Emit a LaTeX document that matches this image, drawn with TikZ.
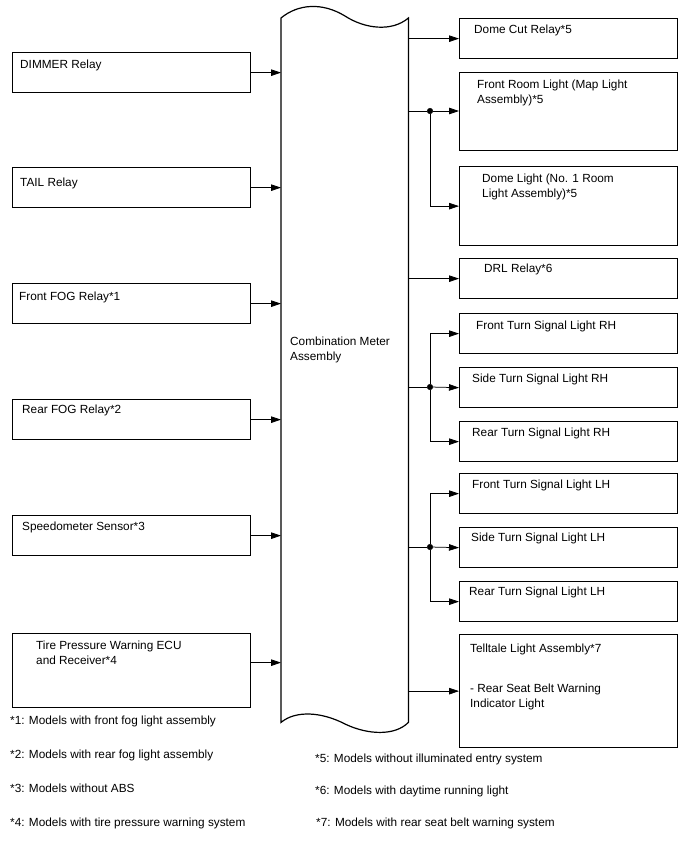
\documentclass[tikz,border=0pt]{standalone}
\usepackage{fontspec}
\setmainfont{Liberation Sans}
\usetikzlibrary{arrows.meta}
\tikzset{
  box/.style={draw, line width=1.3pt, inner sep=0pt, anchor=north west},
  lbl/.style={anchor=north west, inner sep=0pt, align=left, font=\fontsize{11.8}{15}\selectfont},
  conn/.style={line width=0.75pt},
  arr/.style={conn, -{Triangle[length=10pt,width=6.5pt]}},
  jdot/.style={circle, draw, fill, line width=0.5pt, inner sep=0pt, minimum size=5.5pt}
}
\begin{document}
\begin{tikzpicture}[x=1pt,y=-1pt]
\useasboundingbox[fill=white] (0,0) rectangle (688,852);

% central assembly
\node[inner sep=0pt, minimum width=127pt, minimum height=704pt, anchor=north west] (cm) at (281,18) {};
\draw[line width=1.2pt] (cm.north west)
  .. controls (298,4) and (322,2) .. (345,16)
  .. controls (365,29) and (392,32) .. (cm.north east)
  -- (cm.south east)
  .. controls (395,736) and (368,735) .. (345,724)
  .. controls (322,712) and (296,710) .. (cm.south west)
  -- cycle;
\node[lbl] (cmtext) at (290,336.5) {Combination Meter\\Assembly};

% left boxes
\node[box, minimum width=238pt, minimum height=40pt] (dimmer) at (12,52) {};
\node[box, minimum width=238pt, minimum height=40pt] (tail) at (12,167) {};
\node[box, minimum width=238pt, minimum height=40pt] (frontfog) at (12,283) {};
\node[box, minimum width=238pt, minimum height=40pt] (rearfog) at (12,399) {};
\node[box, minimum width=238pt, minimum height=40pt] (speedo) at (12,515) {};
\node[box, minimum width=238pt, minimum height=74pt] (tire) at (12,633) {};

\node[lbl] (dimmert) at (20,59.5) {DIMMER Relay};
\node[lbl] (tailt) at (20,177.5) {TAIL Relay};
\node[lbl] (frontfogt) at (19,291.5) {Front FOG Relay*1};
\node[lbl] (rearfogt) at (22,404.5) {Rear FOG Relay*2};
\node[lbl] (speedot) at (22,521.5) {Speedometer Sensor*3};
\node[lbl] (tiret) at (36,640.5) {Tire Pressure Warning ECU\\and Receiver*4};

\draw[arr] (dimmer.east) -- (dimmer.east -| cm.west);
\draw[arr] (tail.east) -- (tail.east -| cm.west);
\draw[arr] (frontfog.east) -- (frontfog.east -| cm.west);
\draw[arr] (rearfog.east) -- (rearfog.east -| cm.west);
\draw[arr] (speedo.east) -- (speedo.east -| cm.west);
\coordinate (tireout) at ([yshift=8pt]tire.east);
\draw[arr] (tireout) -- (tireout -| cm.west);

% right boxes
\node[box, minimum width=218pt, minimum height=40pt] (domecut) at (459,18) {};
\node[box, minimum width=218pt, minimum height=78pt] (frontroom) at (459,72) {};
\node[box, minimum width=218pt, minimum height=79pt] (domelight) at (459,166) {};
\node[box, minimum width=218pt, minimum height=40pt] (drl) at (459,258) {};
\node[box, minimum width=218pt, minimum height=40pt] (frontRH) at (459,313) {};
\node[box, minimum width=218pt, minimum height=40pt] (sideRH) at (459,367) {};
\node[box, minimum width=218pt, minimum height=40pt] (rearRH) at (459,421) {};
\node[box, minimum width=218pt, minimum height=40pt] (frontLH) at (459,473) {};
\node[box, minimum width=218pt, minimum height=40pt] (sideLH) at (459,527) {};
\node[box, minimum width=218pt, minimum height=40pt] (rearLH) at (459,581) {};
\node[box, minimum width=218pt, minimum height=113pt] (telltale) at (459,634) {};

\node[lbl] (domecutt) at (474,24.5) {Dome Cut Relay*5};
\node[lbl] (frontroomt) at (477,79.5) {Front Room Light (Map Light\\Assembly)*5};
\node[lbl] (domelightt) at (482,173.5) {Dome Light (No. 1 Room\\Light Assembly)*5};
\node[lbl] (drlt) at (484,263.5) {DRL Relay*6};
\node[lbl] (frontRHt) at (476,320.5) {Front Turn Signal Light RH};
\node[lbl] (sideRHt) at (472,373.5) {Side Turn Signal Light RH};
\node[lbl] (rearRHt) at (472,427.5) {Rear Turn Signal Light RH};
\node[lbl] (frontLHt) at (472,479.5) {Front Turn Signal Light LH};
\node[lbl] (sideLHt) at (471,532.5) {Side Turn Signal Light LH};
\node[lbl] (rearLHt) at (469,586.5) {Rear Turn Signal Light LH};
\node[lbl] (telltalet) at (470,643.5) {Telltale Light Assembly*7\\[25pt]- Rear Seat Belt Warning\\Indicator Light};

% right connectors
\draw[arr] (cm.east |- domecut.west) -- (domecut.west);
\node[jdot] (j1) at (430,111) {};
\draw[conn] (cm.east |- j1) -- (j1);
\draw[arr] (j1) -- (frontroom.west |- j1);
\draw[arr] (j1) |- (domelight.west);
\draw[arr] (cm.east |- drl.west) -- (drl.west);
\node[jdot] (j2) at (430,387) {};
\draw[conn] (cm.east |- j2) -- (j2);
\draw[arr] (j2) -- (sideRH.west);
\draw[arr] (j2) |- (frontRH.west);
\draw[arr] (j2) |- (rearRH.west);
\node[jdot] (j3) at (430,547) {};
\draw[conn] (cm.east |- j3) -- (j3);
\draw[arr] (j3) -- (sideLH.west);
\draw[arr] (j3) |- (frontLH.west);
\draw[arr] (j3) |- (rearLH.west);
\draw[arr] (cm.east |- telltale.west) -- (telltale.west);

% footnotes
\node[lbl] (n1) at (10,715.5) {*1: Models with front fog light assembly};
\node[lbl] (n2) at (10,749.5) {*2: Models with rear fog light assembly};
\node[lbl] (n3) at (10,783.5) {*3: Models without ABS};
\node[lbl] (n4) at (10,817.5) {*4: Models with tire pressure warning system};
\node[lbl] (n5) at (315,753.5) {*5: Models without illuminated entry system};
\node[lbl] (n6) at (315,785.5) {*6: Models with daytime running light};
\node[lbl] (n7) at (316,817.5) {*7: Models with rear seat belt warning system};
\end{tikzpicture}
\end{document}
